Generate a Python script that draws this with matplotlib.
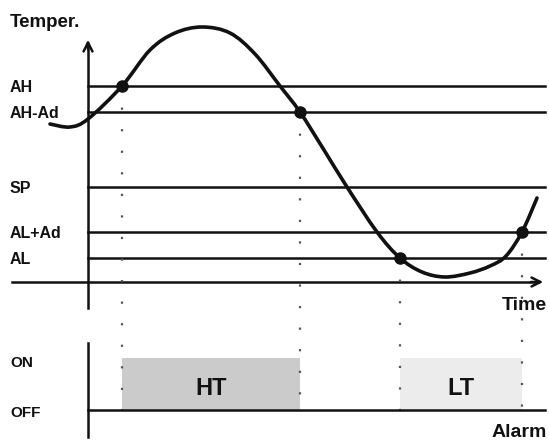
import matplotlib
matplotlib.use("Agg")
import matplotlib.pyplot as plt
import numpy as np
from matplotlib.patches import Rectangle, PathPatch
from matplotlib.path import Path

plt.rcParams["font.family"] = ["Liberation Sans Narrow", "Liberation Sans", "DejaVu Sans"]
plt.rcParams["font.weight"] = "bold"

# temperature curve (time from the T axis, temp above the time axis)
curve_t = [-38, -18, 0, 34, 62, 87, 114, 142, 167, 192, 212, 236, 259, 289, 312,
           334, 357, 382, 402, 418, 434, 449]
curve_temp = [158, 155, 163, 196, 232, 249, 255, 249, 228, 196, 170, 132, 95, 50,
              24, 10, 5, 9, 16, 26, 50, 84]

level_names = ["AH", "AH-Ad", "SP", "AL+Ad", "AL"]
level_values = [196, 170, 95, 50, 24]

cross_t = [34, 212, 312, 434]
cross_temp = [196, 170, 24, 50]

alarm_names = ["HT", "LT"]
alarm_start = [34, 312]
alarm_end = [212, 434]
alarm_colors = ["#cbcbcb", "#ececec"]

OFF_LEVEL = -128
ON_LEVEL = -76

fig = plt.figure(figsize=(5.49, 4.41), dpi=100)
ax = fig.add_axes([0, 0, 1, 1])
ax.set_xlim(-88, 461)
ax.set_ylim(-159, 282)
ax.axis("off")

ink = "#111111"

# temperature axis + time axis
ax.plot([0, 0], [-26, 236], color=ink, lw=1.8)
ax.annotate("", xy=(0, 245), xytext=(0, 230),
            arrowprops=dict(arrowstyle="->", color=ink, lw=1.8, mutation_scale=16))
ax.plot([-76, 450], [0, 0], color=ink, lw=1.8)
ax.annotate("", xy=(458, 0), xytext=(440, 0),
            arrowprops=dict(arrowstyle="->", color=ink, lw=1.8, mutation_scale=16))

# threshold lines
for name, v in zip(level_names, level_values):
    ax.plot([0, 457], [v, v], color=ink, lw=1.8)
    ax.text(-78, v - 6, name, fontsize=11.5, ha="left", va="baseline", color=ink)

# dotted guides
for t, v in zip(cross_t, cross_temp):
    ax.plot([t, t], [v, OFF_LEVEL], color="#555555", lw=1.6, dashes=(1, 8.7))

# alarm panel
for name, a, b, c in zip(alarm_names, alarm_start, alarm_end, alarm_colors):
    ax.add_patch(Rectangle((a, OFF_LEVEL), b - a, ON_LEVEL - OFF_LEVEL, facecolor=c,
                           edgecolor="none", zorder=0))
    ax.text((a + b) / 2, -113, name, fontsize=17, ha="center", va="baseline", color=ink)
ax.plot([0, 0], [-61, -155], color=ink, lw=1.8)
ax.plot([0, 457], [OFF_LEVEL, OFF_LEVEL], color=ink, lw=1.8)
ax.text(-78, -85, "ON", fontsize=11, ha="left", va="baseline", color=ink)
ax.text(-78, -135, "OFF", fontsize=11, ha="left", va="baseline", color=ink)

# temperature curve, smoothed through the points with cubic Bezier segments
pts = np.column_stack([curve_t, curve_temp]).astype(float)
pad = np.vstack([pts[0], pts, pts[-1]])
verts = [pts[0]]
codes = [Path.MOVETO]
for i in range(1, len(pad) - 2):
    p0, p1, p2, p3 = pad[i - 1], pad[i], pad[i + 1], pad[i + 2]
    verts += [p1 + (p2 - p0) / 6, p2 - (p3 - p1) / 6, p2]
    codes += [Path.CURVE4] * 3
ax.add_patch(PathPatch(Path(verts, codes), facecolor="none", edgecolor=ink, lw=2.6,
                       capstyle="round", joinstyle="round"))
ax.plot(cross_t, cross_temp, "o", color=ink, ms=8)

ax.text(-78, 255, "Temper.", fontsize=13.5, ha="left", va="baseline", color=ink)
ax.text(459, -28, "Time", fontsize=14, ha="right", va="baseline", color=ink)
ax.text(459, -155, "Alarm", fontsize=14, ha="right", va="baseline", color=ink)

fig.savefig("out.png", dpi=100)
